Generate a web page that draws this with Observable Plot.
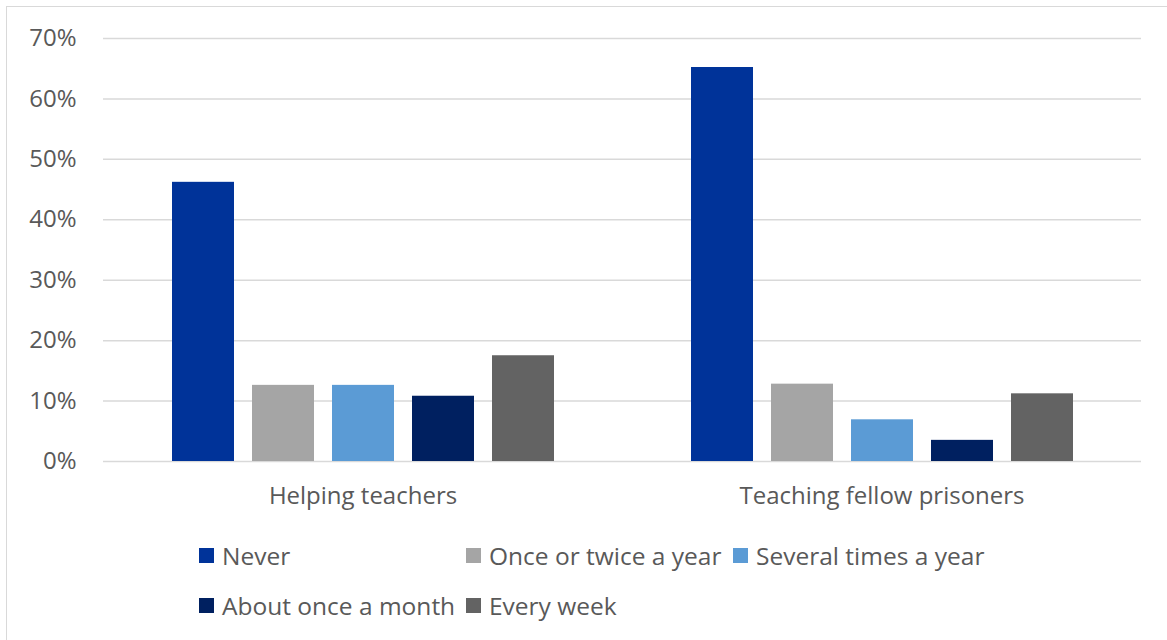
<!DOCTYPE html>
<html>
<head>
<meta charset="utf-8">
<script src="https://cdn.jsdelivr.net/npm/d3@7"></script>
<script src="https://cdn.jsdelivr.net/npm/@observablehq/plot@0.6"></script>
<style>
  body { margin: 0; background: #fff; font-family: "Open Sans", sans-serif; }
  #frame { position: absolute; left: 6px; top: 6px; width: 1200px; height: 700px; border: 1.5px solid #d9d9d9; box-sizing: border-box; }
  #chart { position: absolute; left: 0; top: 0; }
  #legend { position: absolute; left: 199px; top: 537px; display: grid; grid-template-columns: 267px 267px 267px; row-gap: 14px; }
  .item { display: flex; align-items: center; height: 36px; font-size: 24.5px; color: #595959; white-space: nowrap; }
  .sw { width: 15px; height: 15px; margin-right: 8px; flex: none; }
</style>
</head>
<body>
<div id="frame"></div>
<div id="chart"></div>
<div id="legend"></div>
<script>
const categories = ["Helping teachers", "Teaching fellow prisoners"];
const frequencies = ["Never", "Once or twice a year", "Several times a year", "About once a month", "Every week"];
const helpingTeachers = [46.2, 12.6, 12.6, 10.8, 17.5];
const teachingFellowPrisoners = [65.2, 12.8, 6.9, 3.5, 11.2];
const colors = ["#003399", "#a5a5a5", "#5b9bd5", "#002060", "#636363"];
const yTicks = [0, 10, 20, 30, 40, 50, 60, 70];

const series = [helpingTeachers, teachingFellowPrisoners];
const data = [];
categories.forEach((c, i) => frequencies.forEach((f, j) => data.push({category: c, frequency: f, value: series[i][j]})));

const chart = Plot.plot({
  width: 1167,
  height: 520,
  marginLeft: 102,
  marginRight: 26,
  marginTop: 38,
  marginBottom: 59,
  style: {fontFamily: "Open Sans", fontSize: "24px", color: "#595959", background: "transparent"},
  fx: {domain: categories, padding: 0, label: null, axis: "bottom", tickSize: 0, tickPadding: 25},
  x: {domain: frequencies, axis: null, paddingInner: 0.225, paddingOuter: 0.83},
  y: {domain: [0, 70], ticks: 7, tickFormat: d => d + "%", label: null, tickSize: 0, tickPadding: 27},
  color: {domain: frequencies, range: colors},
  marks: [
    Plot.ruleY(yTicks, {stroke: "#d9d9d9", strokeWidth: 1.5}),
    Plot.barY(data, {fx: "category", x: "frequency", y: "value", fill: "frequency"})
  ]
});
document.getElementById("chart").appendChild(chart);

const legend = document.getElementById("legend");
frequencies.forEach((f, i) => {
  const item = document.createElement("div");
  item.className = "item";
  const sw = document.createElement("span");
  sw.className = "sw";
  sw.style.background = colors[i];
  item.appendChild(sw);
  item.appendChild(document.createTextNode(f));
  legend.appendChild(item);
});
</script>
</body>
</html>
